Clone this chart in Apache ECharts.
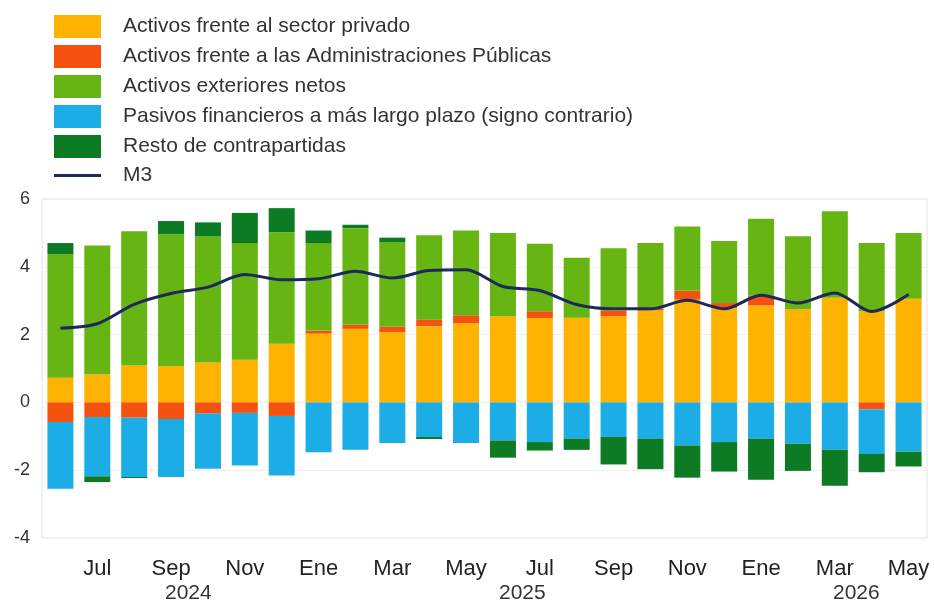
<!DOCTYPE html>
<html>
<head>
<meta charset="utf-8">
<script src="https://cdn.jsdelivr.net/npm/echarts@6/dist/echarts.min.js"></script>
<style>
  html, body { margin: 0; padding: 0; background: #fff; }
  #chart { width: 934px; height: 604px; }
</style>
</head>
<body>
<div id="chart"></div>
<script>
// meses de jun 2024 a may 2026
const months = ['Jun', 'Jul', 'Ago', 'Sep', 'Oct', 'Nov', 'Dic',
  'Ene', 'Feb', 'Mar', 'Abr', 'May', 'Jun', 'Jul', 'Ago', 'Sep', 'Oct', 'Nov', 'Dic',
  'Ene', 'Feb', 'Mar', 'Abr', 'May'];
const years = [
  { label: '2024', x: 189 },
  { label: '2025', x: 523 },
  { label: '2026', x: 857 }
];

const privado = [0.73, 0.82, 1.09, 1.07, 1.18, 1.26, 1.73, 2.03, 2.17, 2.07, 2.25, 2.34,
  2.54, 2.49, 2.50, 2.54, 2.71, 3.03, 2.78, 2.86, 2.75, 3.09, 2.69, 3.06];
const aapp = [-0.58, -0.43, -0.45, -0.49, -0.33, -0.31, -0.40, 0.09, 0.12, 0.17, 0.19, 0.23,
  0, 0.20, 0, 0.17, 0.05, 0.26, 0.15, 0.30, 0, 0, -0.20, 0];
const exteriores = [3.64, 3.81, 3.96, 3.89, 3.72, 3.44, 3.29, 2.58, 2.85, 2.49, 2.49, 2.50,
  2.46, 1.99, 1.77, 1.84, 1.94, 1.90, 1.83, 2.26, 2.15, 2.55, 2.01, 1.94];
const pasivos = [-1.97, -1.75, -1.75, -1.71, -1.63, -1.55, -1.76, -1.47, -1.40, -1.20, -1.02, -1.20,
  -1.12, -1.17, -1.07, -1.02, -1.07, -1.27, -1.17, -1.07, -1.22, -1.40, -1.32, -1.45];
const resto = [0.33, -0.17, -0.03, 0.39, 0.41, 0.89, 0.71, 0.37, 0.10, 0.13, -0.06, 0,
  -0.51, -0.25, -0.33, -0.81, -0.90, -0.95, -0.87, -1.21, -0.80, -1.06, -0.54, -0.44];
const m3 = [2.19, 2.32, 2.89, 3.21, 3.40, 3.77, 3.62, 3.65, 3.87, 3.67, 3.89, 3.91,
  3.42, 3.30, 2.89, 2.76, 2.76, 3.01, 2.76, 3.16, 2.93, 3.23, 2.68, 3.18];

const FONT = '"Liberation Sans", Arial, sans-serif';
const NAVY = '#1C2A5A';

const chart = echarts.init(document.getElementById('chart'), null, { renderer: 'canvas' });

function barSerie(name, data, color) {
  return {
    name: name,
    type: 'bar',
    stack: 'total',
    barWidth: 26,
    data: data,
    itemStyle: { color: color }
  };
}

const option = {
  animation: false,
  legend: {
    orient: 'vertical',
    left: 54,
    top: 15,
    padding: 0,
    itemWidth: 47,
    itemHeight: 23,
    itemGap: 7,
    textStyle: { fontFamily: FONT, fontSize: 21, color: '#333', padding: [0, 0, 0, 17] },
    data: [
      { name: 'Activos frente al sector privado', icon: 'rect' },
      { name: 'Activos frente a las Administraciones Públicas', icon: 'rect' },
      { name: 'Activos exteriores netos', icon: 'rect' },
      { name: 'Pasivos financieros a más largo plazo (signo contrario)', icon: 'rect' },
      { name: 'Resto de contrapartidas', icon: 'rect' },
      { name: 'M3', icon: 'path://M0,0H47V3H0Z', itemStyle: { color: NAVY } }
    ]
  },
  grid: {
    left: 42, right: 7, top: 199, bottom: 66,
    show: true, borderColor: '#e4e4e4', borderWidth: 1
  },
  xAxis: {
    type: 'category',
    data: months,
    axisLine: { show: false },
    axisTick: { show: false },
    axisLabel: {
      interval: (i) => i % 2 === 1,
      margin: 20,
      fontFamily: FONT, fontSize: 22, color: '#222'
    }
  },
  yAxis: {
    type: 'value',
    min: -4, max: 6, interval: 2,
    axisLine: { show: false },
    axisTick: { show: false },
    axisLabel: { margin: 12, fontFamily: FONT, fontSize: 18, color: '#333' },
    splitLine: { lineStyle: { color: '#efefef' } }
  },
  graphic: years.map(y => ({
    type: 'text',
    left: y.x - 24,
    top: 583,
    style: { text: y.label, font: '21px ' + FONT, fill: '#333' }
  })),
  series: [
    barSerie('Activos frente al sector privado', privado, '#FDB300'),
    barSerie('Activos frente a las Administraciones Públicas', aapp, '#F5520F'),
    barSerie('Activos exteriores netos', exteriores, '#66B512'),
    barSerie('Pasivos financieros a más largo plazo (signo contrario)', pasivos, '#1CADE6'),
    barSerie('Resto de contrapartidas', resto, '#0D7A24'),
    {
      name: 'M3',
      type: 'line',
      data: m3,
      smooth: 0.3,
      symbol: 'none',
      lineStyle: { color: NAVY, width: 3 },
      itemStyle: { color: NAVY },
      z: 5
    }
  ]
};

chart.setOption(option);
</script>
</body>
</html>
